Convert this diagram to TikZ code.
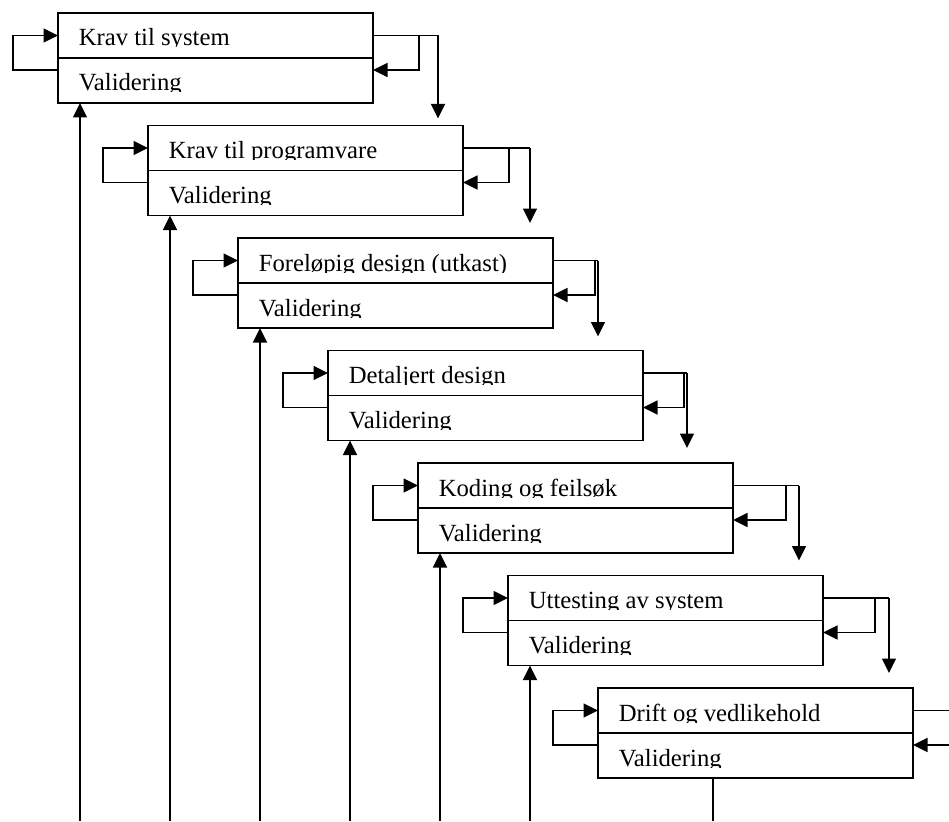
\documentclass[tikz,border=0pt]{standalone}
\usepackage{fontspec}
\setmainfont{Liberation Serif}
\usetikzlibrary{arrows.meta,calc}
\begin{document}
\begin{tikzpicture}[x=1pt,y=-1pt,line width=1.6pt,
  phasebox/.style={draw,line width=1.6pt,minimum width=315pt,minimum height=45pt,
    anchor=north west,inner sep=0pt,outer sep=0pt},
  arr/.style={-{Triangle[length=14.5pt,width=14pt]}},
  boxtext/.style={anchor=base west,inner sep=0pt,font=\fontsize{24.7}{29}\selectfont}]
\useasboundingbox (0,0) rectangle (949,821);
% phase: number / top / title / feedback branch offset / forward offset / gap above next phase
\foreach \i/\t/\name/\br/\mn/\gap in {
  1/13/Krav til system/46/65/7,
  2/125.5/Krav til programvare/46/67/15,
  3/238/Foreløpig design (utkast)/42/45/14,
  4/350.5/Detaljert design/41/44/15,
  5/463/Koding og feilsøk/53/66/15,
  6/575.5/Uttesting av system/52/66/15,
  7/688/Drift og vedlikehold/0/0/0}{
  \pgfmathsetmacro\l{58+90*(\i-1)}
  % the two stacked boxes
  \node[phasebox] (h\i) at (\l,\t) {};
  \node[phasebox] (v\i) at (\l,\t+45) {};
  \begin{scope}
    \clip (\l,\t) rectangle (\l+315,\t+34);
    \node[boxtext] (ht\i) at (\l+20,\t+33) {\name};
  \end{scope}
  \begin{scope}
    \clip (\l,\t+45) rectangle (\l+315,\t+79);
    \node[boxtext] (vt\i) at (\l+20,\t+78) {Validering};
  \end{scope}
  % iteration loop on the left
  \draw[arr] ([yshift=10.5pt]v\i.west) -- ++(-45,0) |- (h\i.west);
  \ifnum\i<7
    % feedback from the phase into its own validation
    \draw (h\i.east) -- ++(\mn,0) coordinate (m\i);
    \draw[arr] ($(h\i.east)+(\br,0)$) |- ([yshift=10.5pt]v\i.east);
    % forward to the next phase
    \draw[arr] (m\i) -- ++(0,90-\gap) coordinate (n\i);
    % validation input from below
    \coordinate (f\i) at (\l+22,821);
    \draw[arr] (f\i) -- (f\i |- v\i.south);
  \else
    \coordinate (e\i) at (960,\t+22.5);
    \coordinate (g\i) at (960,\t+57);
    \draw (h\i.east) -- (e\i);
    \draw[arr] (g\i) -- ([yshift=10.5pt]v\i.east);
    \coordinate (f\i) at (713,821);
    \draw (f\i |- v\i.south) -- (f\i);
  \fi
}
\end{tikzpicture}
\end{document}
